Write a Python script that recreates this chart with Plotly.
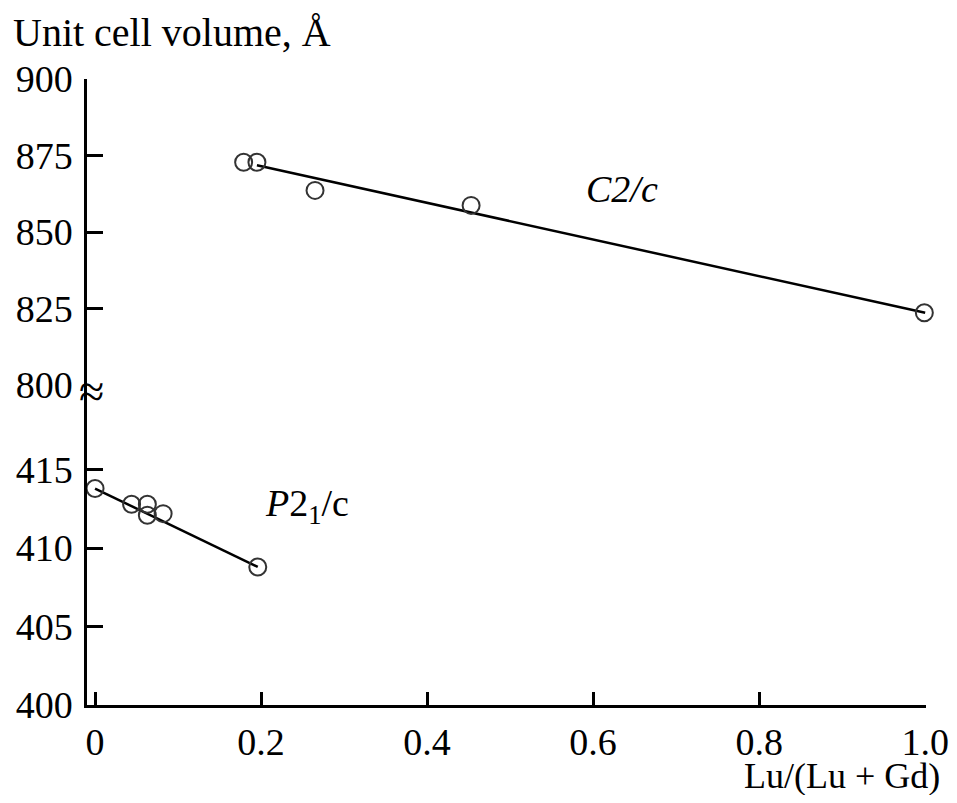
import plotly.graph_objects as go

# C2/c phase (upper panel)
c2c_x = [0.179, 0.195, 0.265, 0.453, 0.999]
c2c_vol = [872.8, 872.8, 863.6, 858.7, 823.6]
c2c_fit_x = [0.195, 1.0]
c2c_fit_vol = [871.8, 823.6]

# P2_1/c phase (lower panel)
p21c_x = [0.0, 0.044, 0.063, 0.063, 0.082, 0.196]
p21c_vol = [413.8, 412.8, 412.8, 412.1, 412.2, 408.8]
p21c_fit_x = [0.0, 0.196]
p21c_fit_vol = [413.8, 408.8]

x_ticks = [0, 0.2, 0.4, 0.6, 0.8, 1.0]
x_ticktext = ["0", "0.2", "0.4", "0.6", "0.8", "1.0"]
upper_ticks = [800, 825, 850, 875, 900]
lower_ticks = [400, 405, 410, 415]

font_family = "Liberation Serif"
fs = 38

marker = dict(symbol="circle-open", size=17, color="#333333", line=dict(width=2))

fig = go.Figure()
fig.add_trace(go.Scatter(x=c2c_fit_x, y=c2c_fit_vol, mode="lines",
                         line=dict(color="black", width=2.5), yaxis="y2"))
fig.add_trace(go.Scatter(x=c2c_x, y=c2c_vol, mode="markers", marker=marker,
                         yaxis="y2", cliponaxis=False))
fig.add_trace(go.Scatter(x=p21c_fit_x, y=p21c_fit_vol, mode="lines",
                         line=dict(color="black", width=2.5)))
fig.add_trace(go.Scatter(x=p21c_x, y=p21c_vol, mode="markers", marker=marker,
                         cliponaxis=False))

axis_common = dict(showline=True, linecolor="black", linewidth=2.5,
                   ticks="inside", tickcolor="black", tickwidth=2.5,
                   showgrid=False, zeroline=False, automargin=False,
                   tickfont=dict(family=font_family, size=fs, color="black"))

# page body adds an 8px offset, so the figure is sized to fit inside it
plot_w = 926 - 87
plot_h = 705 - 79
split = (705 - 385) / plot_h

fig.update_layout(
    width=941, height=787,
    margin=dict(l=79, r=23, t=71, b=90),
    paper_bgcolor="white", plot_bgcolor="white",
    showlegend=False,
    font=dict(family=font_family, size=fs, color="black"),
    xaxis=dict(range=[-0.0097, 1.001], tickvals=x_ticks, ticktext=x_ticktext,
               ticklen=13, ticklabelstandoff=2, **axis_common),
    yaxis=dict(range=[400, 420.4], domain=[0, split], tickvals=lower_ticks,
               ticklen=16, ticklabelstandoff=4, **axis_common),
    yaxis2=dict(range=[800, 900], domain=[split, 1], tickvals=upper_ticks,
                ticklen=16, ticklabelstandoff=4, anchor="x", **axis_common),
    annotations=[
        dict(text="Unit cell volume, Å", xref="paper", yref="paper",
             x=-76 / plot_w, y=1 + 47 / plot_h, xanchor="left", yanchor="middle",
             showarrow=False, font=dict(size=40)),
        dict(text="Lu/(Lu + Gd)", xref="paper", yref="paper",
             x=1 + 16 / plot_w, y=-71 / plot_h, xanchor="right", yanchor="middle",
             showarrow=False, font=dict(size=36)),
        dict(text="<i>C2/c</i>", x=0.635, y=864, xref="x", yref="y2",
             showarrow=False, font=dict(size=fs)),
        dict(text="<i>P</i>2<sub>1</sub>/c", x=0.255, y=412.7, xref="x", yref="y",
             showarrow=False, font=dict(size=fs)),
        dict(text="≈", xref="paper", yref="paper", x=4 / plot_w, y=split - 6 / plot_h,
             xanchor="center", yanchor="middle", showarrow=False,
             font=dict(size=46)),
    ],
)

fig.write_html("out.html")
